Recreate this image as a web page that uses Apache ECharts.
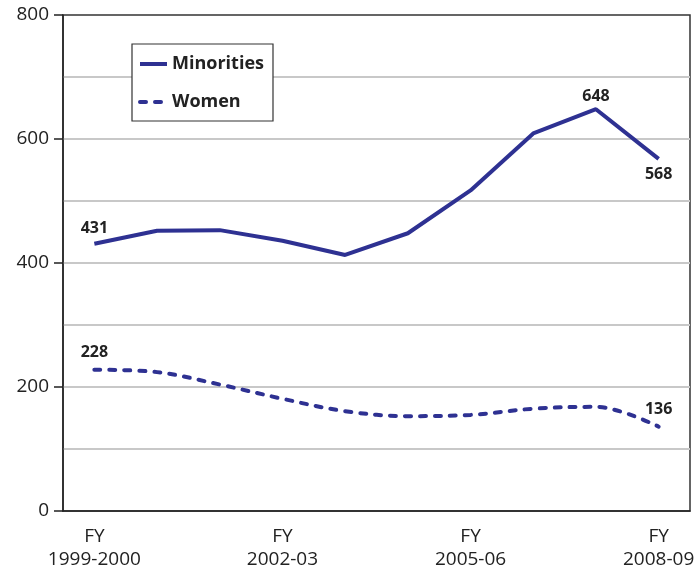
<!DOCTYPE html>
<html>
<head>
<meta charset="utf-8">
<script src="https://cdn.jsdelivr.net/npm/echarts@6/dist/echarts.min.js"></script>
<style>
  html, body { margin: 0; padding: 0; background: #ffffff; }
  #chart { width: 700px; height: 571px; }
</style>
</head>
<body>
<div id="chart"></div>
<script>
// Fiscal years on the horizontal axis
const years = ['1999-2000', '2000-01', '2001-02', '2002-03', '2003-04',
               '2004-05', '2005-06', '2006-07', '2007-08', '2008-09'];
// Yearly counts
const minorities = [431, 452, 453, 436, 413, 448, 517, 609, 648, 568];
const women = [228, 224, 204, 181, 161, 153, 155, 165, 168, 136];
// Which points carry a value label: [position, distance]
const minoritiesLabelled = { 0: ['top', 7], 8: ['top', 5], 9: ['bottom', 8] };
const womenLabelled = { 0: ['top', 9], 9: ['top', 9] };

const FONT = '"Open Sans", "Noto Sans", sans-serif';
const BLUE = '#2e3192';

function withLabels(values, labelled) {
  return values.map((v, i) => {
    const spec = labelled[i];
    if (spec === undefined) return v;
    return {
      value: v,
      label: {
        show: true,
        position: spec[0],
        distance: spec[1],
        color: '#222',
        fontFamily: FONT,
        fontWeight: 'bold',
        fontSize: 16
      }
    };
  });
}

const chart = echarts.init(document.getElementById('chart'), null, { renderer: 'canvas' });
chart.setOption({
  animation: false,
  backgroundColor: '#ffffff',
  grid: {
    left: 63, right: 10, top: 15, bottom: 60,
    show: true,
    borderColor: '#333',
    borderWidth: 1.5,
    containLabel: false,
    outerBoundsMode: 'none'
  },
  legend: {
    left: 132, top: 44,
    orient: 'vertical',
    padding: [11, 9, 10, 6],
    itemGap: 20,
    itemWidth: 27,
    itemHeight: 14,
    borderColor: '#333',
    borderWidth: 1.2,
    backgroundColor: '#fff',
    itemStyle: { color: 'rgba(0,0,0,0)', borderWidth: 0 },
    lineStyle: { width: 4 },
    textStyle: { fontFamily: FONT, fontWeight: 'bold', fontSize: 18, color: '#222' },
    data: ['Minorities', 'Women']
  },
  xAxis: {
    type: 'category',
    data: years,
    boundaryGap: true,
    axisLine: { lineStyle: { color: '#222', width: 1.5 } },
    axisTick: { alignWithLabel: true, interval: 2, length: 10, lineStyle: { color: '#222', width: 1.5 } },
    axisLabel: {
      interval: 2,
      margin: 14,
      fontFamily: FONT,
      fontSize: 19,
      lineHeight: 23,
      color: '#222',
      formatter: v => 'FY\n' + v
    },
    splitLine: { show: false }
  },
  yAxis: {
    type: 'value',
    min: 0, max: 800, interval: 200,
    axisLine: { show: true, lineStyle: { color: '#222', width: 1.5 } },
    axisTick: { show: true, length: 9, lineStyle: { color: '#222', width: 1.5 } },
    axisLabel: { margin: 14, fontFamily: FONT, fontSize: 19, color: '#222' },
    splitLine: { show: true, showMinLine: false, showMaxLine: false, lineStyle: { color: '#c8c8c8', width: 2 } },
    minorTick: { show: false, splitNumber: 2 },
    minorSplitLine: { show: true, lineStyle: { color: '#c8c8c8', width: 2 } }
  },
  series: [
    {
      name: 'Minorities',
      type: 'line',
      data: withLabels(minorities, minoritiesLabelled),
      symbol: 'circle',
      symbolSize: 0.01,
      showSymbol: true,
      color: BLUE,
      lineStyle: { color: BLUE, width: 4 },
      z: 3
    },
    {
      name: 'Women',
      type: 'line',
      data: withLabels(women, womenLabelled),
      symbol: 'circle',
      symbolSize: 0.01,
      showSymbol: true,
      smooth: 0.35,
      color: BLUE,
      lineStyle: { color: BLUE, width: 4, type: [6, 9], cap: 'round' },
      z: 3
    }
  ]
});
</script>
</body>
</html>
